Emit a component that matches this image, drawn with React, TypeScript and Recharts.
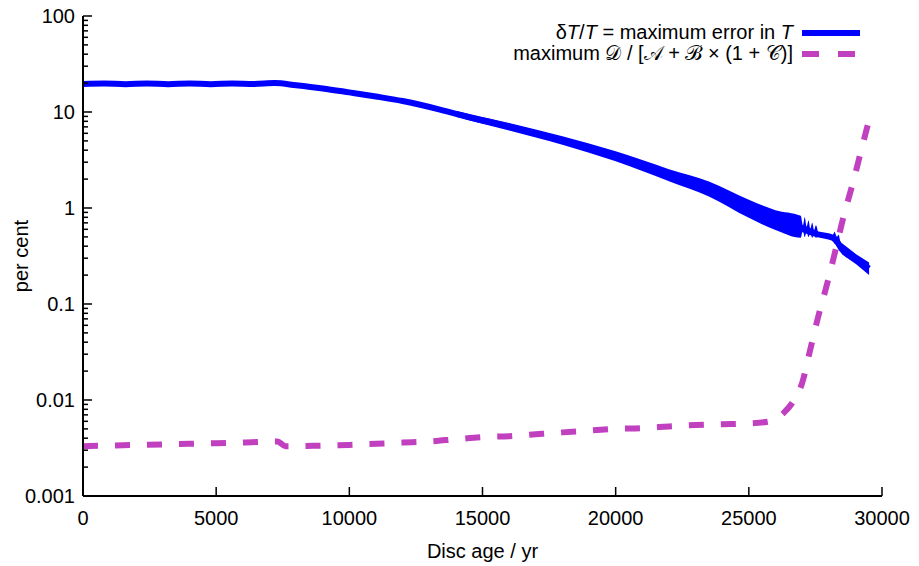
import { ComposedChart, Line, Area, XAxis, YAxis, Legend } from "recharts"

const FONT = '"Liberation Sans", Arial, Helvetica, sans-serif'
const BLUE = "#0000ff"
const PURPLE = "#c040c0"

// axis ticks
const xTicks = [0, 5000, 10000, 15000, 20000, 25000, 30000]
const yMajor = [0.001, 0.01, 0.1, 1, 10, 100]
const yMajorLabels = ["0.001", "0.01", "0.1", "1", "10", "100"]
const yMinorSteps = [2, 3, 4, 5, 6, 7, 8, 9]

// dT/T = maximum error in T (centre of the trace)
const errAge = [
  0, 800, 1600, 2400, 3200, 4000, 4800, 5600, 6400, 7200, 8000, 9000, 10000, 11000, 12000,
  13400, 14500, 15500, 16500, 17500, 18500, 19600, 20600, 21700, 22400, 23200, 24300, 25400,
  25800, 26300, 26900, 27600, 28150, 28300, 28500, 29030, 29515,
]
const errPct = [
  19.6, 19.8, 19.5, 19.8, 19.5, 19.8, 19.5, 19.8, 19.6, 20.0, 19.0, 17.6, 16.0, 14.5, 13.0,
  10.6, 8.8, 7.6, 6.5, 5.5, 4.6, 3.75, 3.05, 2.35, 2.02, 1.72, 1.25, 0.84,
  0.78, 0.7, 0.62, 0.53, 0.49, 0.45, 0.37, 0.29, 0.235,
]

// oscillation envelope of the same trace, first stretch
const bandAAge = [
  14000, 16000, 18000, 20000, 22000, 23500, 25000, 26000, 26950,
  27030, 27100, 27170, 27240, 27310, 27380, 27450, 27520, 27600,
]
const bandALow = [
  8.93, 6.4, 4.56, 3.06, 1.9, 1.32, 0.79, 0.59, 0.49,
  0.58, 0.5, 0.57, 0.5, 0.55, 0.49, 0.54, 0.49, 0.51,
]
const bandAHigh = [
  10.32, 7.66, 5.59, 3.89, 2.54, 1.89, 1.22, 0.95, 0.83,
  0.66, 0.8, 0.64, 0.74, 0.61, 0.7, 0.59, 0.66, 0.55,
]

// oscillation envelope, last stretch
const bandBAge = [28150, 28220, 28300, 28380, 28450, 28500, 29030, 29515]
const bandBLow = [0.47, 0.42, 0.46, 0.4, 0.37, 0.33, 0.26, 0.2]
const bandBHigh = [0.52, 0.57, 0.5, 0.53, 0.42, 0.43, 0.33, 0.27]

// maximum D / [A + B x (1 + C)]
const ratioAge = [
  0, 1000, 2000, 3000, 4000, 5000, 6000, 7300, 7600, 9000, 10000, 11000, 12000, 13000,
  14000, 15000, 16000, 17000, 18000, 19000, 20000, 21000, 22000, 23000, 24000, 25000,
  25800, 26300, 26700, 27000, 27300, 27600, 27950, 28250, 28550, 28900, 29200, 29515,
]
const ratioPct = [
  0.0033, 0.00335, 0.0034, 0.00345, 0.0035, 0.00355, 0.0036, 0.0037, 0.0033, 0.00335,
  0.0034, 0.0035, 0.0036, 0.0037, 0.0039, 0.0041, 0.0042, 0.0044, 0.0046, 0.0048, 0.005,
  0.0051, 0.0053, 0.0055, 0.0056, 0.0057, 0.006, 0.0073, 0.01, 0.015, 0.033, 0.073, 0.166,
  0.36, 0.8, 1.8, 3.8, 8.3,
]

const errData = errAge.map((age, i) => ({ age, pct: errPct[i] }))
const bandAData = bandAAge.map((age, i) => ({ age, range: [bandALow[i], bandAHigh[i]] }))
const bandBData = bandBAge.map((age, i) => ({ age, range: [bandBLow[i], bandBHigh[i]] }))
const ratioData = ratioAge.map((age, i) => ({ age, pct: ratioPct[i] }))

const yTicks = [
  ...yMajor,
  ...yMajor.slice(0, -1).flatMap((d) => yMinorSteps.map((s) => d * s)),
]

function majorIndex(v: number) {
  return yMajor.findIndex((m) => Math.abs(m - v) / m < 1e-6)
}

function LeftTick(props: any) {
  const { x, y, payload } = props
  const i = majorIndex(payload.value)
  return (
    <g>
      <line x1={x} x2={x + (i >= 0 ? 9 : 5)} y1={y} y2={y} stroke="#000" strokeWidth={1.5} />
      {i >= 0 && (
        <text x={x - 8} y={y} dy={7} textAnchor="end" fontFamily={FONT} fontSize={20} fill="#000">
          {yMajorLabels[i]}
        </text>
      )}
    </g>
  )
}

function RightTick(props: any) {
  const { x, y, payload } = props
  const i = majorIndex(payload.value)
  return <line x1={x} x2={x - (i >= 0 ? 9 : 5)} y1={y} y2={y} stroke="#000" strokeWidth={1.5} />
}

function BottomTick(props: any) {
  const { x, y, payload } = props
  return (
    <g>
      <line x1={x} x2={x} y1={y} y2={y - 9} stroke="#000" strokeWidth={1.5} />
      <text x={x} y={y + 29} textAnchor="middle" fontFamily={FONT} fontSize={20} fill="#000">
        {payload.value}
      </text>
    </g>
  )
}

function TopTick(props: any) {
  const { x, y } = props
  return <line x1={x} x2={x} y1={y} y2={y + 9} stroke="#000" strokeWidth={1.5} />
}

const rowStyle = {
  display: "flex",
  justifyContent: "flex-end",
  alignItems: "center",
  height: 21,
  whiteSpace: "nowrap" as const,
}

function LegendBox() {
  return (
    <div style={{ fontFamily: FONT, fontSize: 20, color: "#000", lineHeight: "21px" }}>
      <div style={rowStyle}>
        <span>
          δ<i>T</i>/<i>T</i> = maximum error in <i>T</i>
        </span>
        <svg width={58} height={10} style={{ marginLeft: 9 }}>
          <line x1={0} x2={58} y1={5} y2={5} stroke={BLUE} strokeWidth={6} />
        </svg>
      </div>
      <div style={rowStyle}>
        <span>maximum 𝒟 / [𝒜 + ℬ × (1 + 𝒞)]</span>
        <svg width={58} height={10} style={{ marginLeft: 9 }}>
          <line x1={0} x2={58} y1={5} y2={5} stroke={PURPLE} strokeWidth={6} strokeDasharray="17 19" />
        </svg>
      </div>
    </div>
  )
}

export default function App() {
  return (
    <div style={{ position: "absolute", left: 0, top: 0, background: "#fff" }}>
      <ComposedChart width={919} height={566} margin={{ top: 16, right: 37, bottom: 30, left: 10 }}>
        <XAxis
          xAxisId="bottom"
          dataKey="age"
          type="number"
          domain={[0, 30000]}
          ticks={xTicks}
          interval={0}
          allowDataOverflow
          height={40}
          tickSize={0}
          tickMargin={0}
          tick={<BottomTick />}
          axisLine={{ stroke: "#000", strokeWidth: 2 }}
          label={{
            content: (p: any) => (
              <text
                x={p.viewBox.x + p.viewBox.width / 2}
                y={558}
                textAnchor="middle"
                fontFamily={FONT}
                fontSize={20}
                fill="#000"
              >
                Disc age / yr
              </text>
            ),
          }}
        />
        <XAxis
          xAxisId="top"
          orientation="top"
          dataKey="age"
          type="number"
          domain={[0, 30000]}
          ticks={xTicks}
          interval={0}
          allowDataOverflow
          height={0}
          tickSize={0}
          tickMargin={0}
          tick={<TopTick />}
          axisLine={{ stroke: "#000", strokeWidth: 2 }}
        />
        <YAxis
          yAxisId="left"
          scale="log"
          type="number"
          domain={[0.001, 100]}
          ticks={yTicks}
          interval={0}
          allowDataOverflow
          width={73}
          tickSize={0}
          tickMargin={0}
          tick={<LeftTick />}
          axisLine={{ stroke: "#000", strokeWidth: 2 }}
          label={{
            content: (p: any) => (
              <text
                x={21}
                y={p.viewBox.y + p.viewBox.height / 2}
                transform={`rotate(-90 21 ${p.viewBox.y + p.viewBox.height / 2})`}
                textAnchor="middle"
                dominantBaseline="central"
                fontFamily={FONT}
                fontSize={20}
                fill="#000"
              >
                per cent
              </text>
            ),
          }}
        />
        <YAxis
          yAxisId="right"
          orientation="right"
          scale="log"
          type="number"
          domain={[0.001, 100]}
          ticks={yTicks}
          interval={0}
          allowDataOverflow
          width={0}
          tickSize={0}
          tickMargin={0}
          tick={<RightTick />}
          axisLine={{ stroke: "#000", strokeWidth: 2 }}
        />
        <Legend
          layout="horizontal"
          verticalAlign="middle"
          align="center"
          content={() => <LegendBox />}
          wrapperStyle={{ left: 400, top: 22, width: 460, height: 44 }}
        />
        <Area
          xAxisId="bottom"
          yAxisId="left"
          data={bandAData}
          dataKey="range"
          type="monotone"
          stroke="none"
          fill={BLUE}
          fillOpacity={1}
          legendType="none"
          isAnimationActive={false}
        />
        <Area
          xAxisId="bottom"
          yAxisId="left"
          data={bandBData}
          dataKey="range"
          type="linear"
          stroke="none"
          fill={BLUE}
          fillOpacity={1}
          legendType="none"
          isAnimationActive={false}
        />
        <Line
          xAxisId="bottom"
          yAxisId="left"
          data={errData}
          dataKey="pct"
          type="monotone"
          stroke={BLUE}
          strokeWidth={6}
          dot={false}
          isAnimationActive={false}
        />
        <Line
          xAxisId="bottom"
          yAxisId="left"
          data={ratioData}
          dataKey="pct"
          type="monotone"
          stroke={PURPLE}
          strokeWidth={6}
          strokeDasharray="15 17"
          dot={false}
          isAnimationActive={false}
        />
      </ComposedChart>
    </div>
  )
}
